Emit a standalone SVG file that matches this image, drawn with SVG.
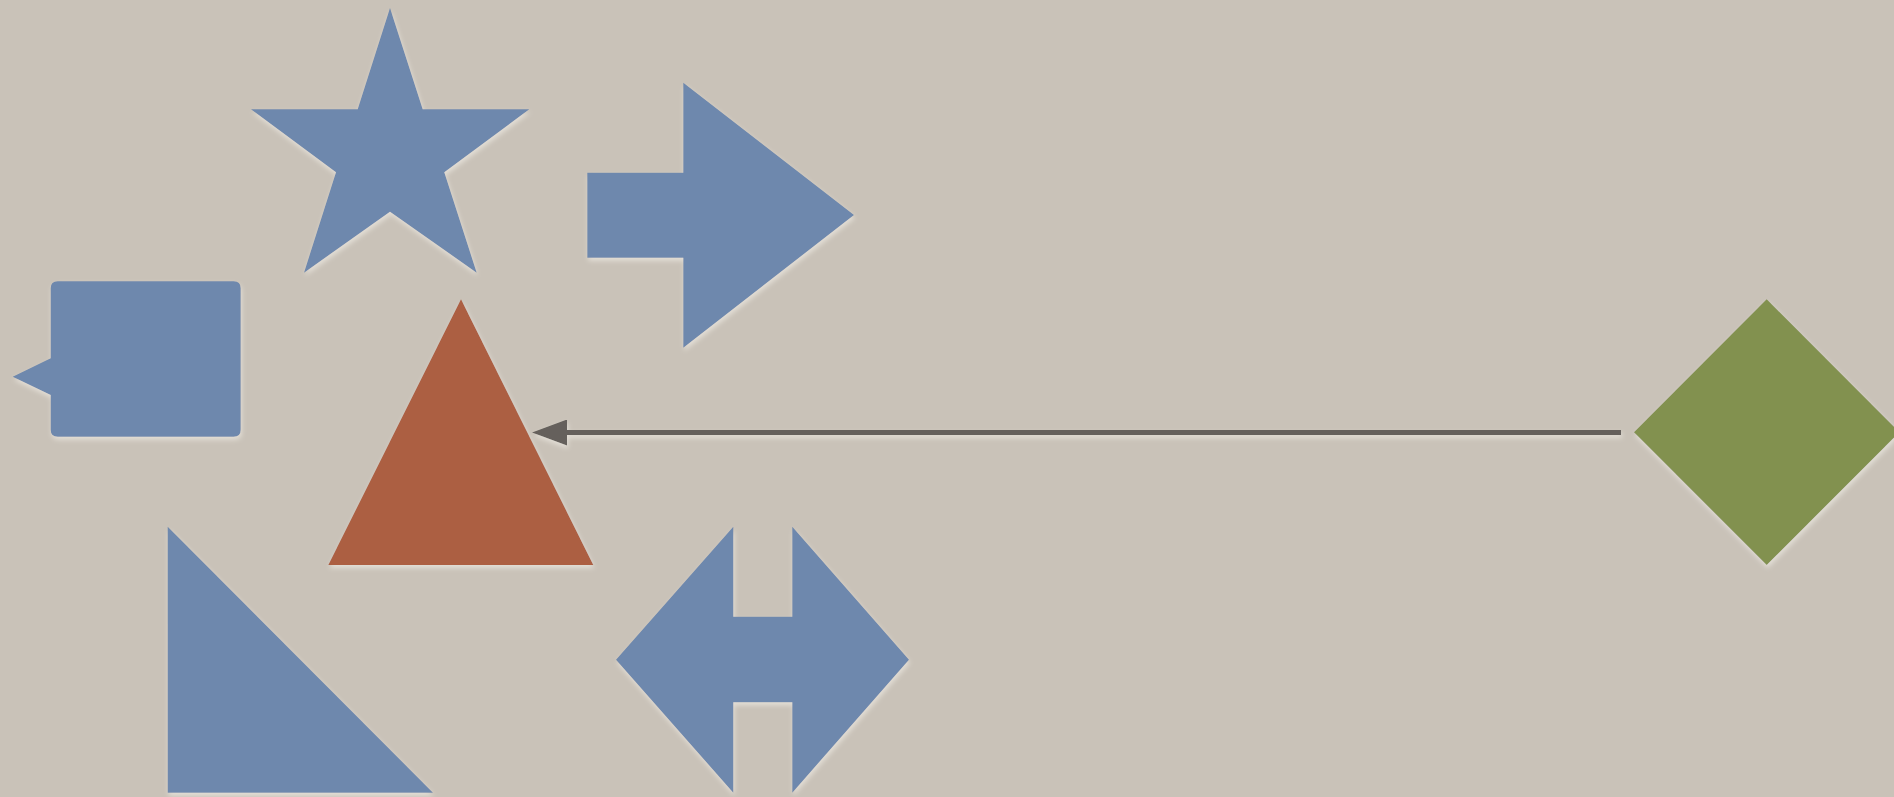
<svg xmlns="http://www.w3.org/2000/svg" width="1894" height="797" viewBox="0 0 1894 797">
  <style>
    .blue { fill: #6e88ad; }
    .red { fill: #ac5f43; }
    .green { fill: #82914f; }
    .shape { filter: url(#glow); }
    .conn { stroke: #65615c; stroke-width: 5; fill: none; }
  </style>
  <defs>
    <filter id="glow" x="-10%" y="-10%" width="120%" height="120%">
      <feDropShadow dx="1" dy="3" stdDeviation="2.5" flood-color="#efebe4" flood-opacity="0.7"/>
    </filter>
    <filter id="glowLine" filterUnits="userSpaceOnUse" x="500" y="400" width="1150" height="70">
      <feDropShadow dx="1" dy="3" stdDeviation="2.5" flood-color="#efebe4" flood-opacity="0.7"/>
    </filter>
    <marker id="ah" markerUnits="userSpaceOnUse" markerWidth="37" markerHeight="26" refX="1" refY="13" orient="auto">
      <path d="M0,0 L35,13 L0,26 Z" fill="#65615c"/>
    </marker>
  </defs>
  <rect width="1894" height="797" fill="#c9c2b8"/>

  <g id="connectors" filter="url(#glowLine)">
    <line class="conn" x1="1621" y1="432.5" x2="566" y2="432.5" marker-end="url(#ah)"/>
  </g>

  <g id="star" class="shape">
    <polygon class="blue" points="390,8 422.7,109.3 529.3,109.3 444.3,172.3 476.7,272.7 390,211.7 304,272.7 336,172.3 251,109.3 357.7,109.3"/>
  </g>

  <g id="right-arrow" class="shape">
    <polygon class="blue" points="587.3,172.7 683.3,172.7 683.3,82.7 854,215 683.3,347.7 683.3,257.7 587.3,257.7"/>
  </g>

  <g id="callout" class="shape">
    <path class="blue" d="M57.7,281.3 H233.7 Q240.7,281.3 240.7,288.3 V429.7 Q240.7,436.7 233.7,436.7 H57.7 Q50.7,436.7 50.7,429.7 V395 L12.7,376.7 L50.7,358.3 V288.3 Q50.7,281.3 57.7,281.3 Z"/>
  </g>

  <g id="triangle" class="shape">
    <polygon class="red" points="461,299.3 593.3,565 328.3,565"/>
  </g>

  <g id="diamond" class="shape">
    <polygon class="green" points="1766.7,299.3 1899.4,432.3 1766.7,565 1634,432.3"/>
  </g>

  <g id="right-triangle" class="shape">
    <polygon class="blue" points="167.7,526.7 433,792.7 167.7,792.7"/>
  </g>

  <g id="double-arrow" class="shape">
    <polygon class="blue" points="616,659.7 733.3,526.7 733.3,616.7 792.3,616.7 792.3,526.7 909,659.7 792.3,792.7 792.3,702.3 733.3,702.3 733.3,792.7"/>
  </g>
</svg>
